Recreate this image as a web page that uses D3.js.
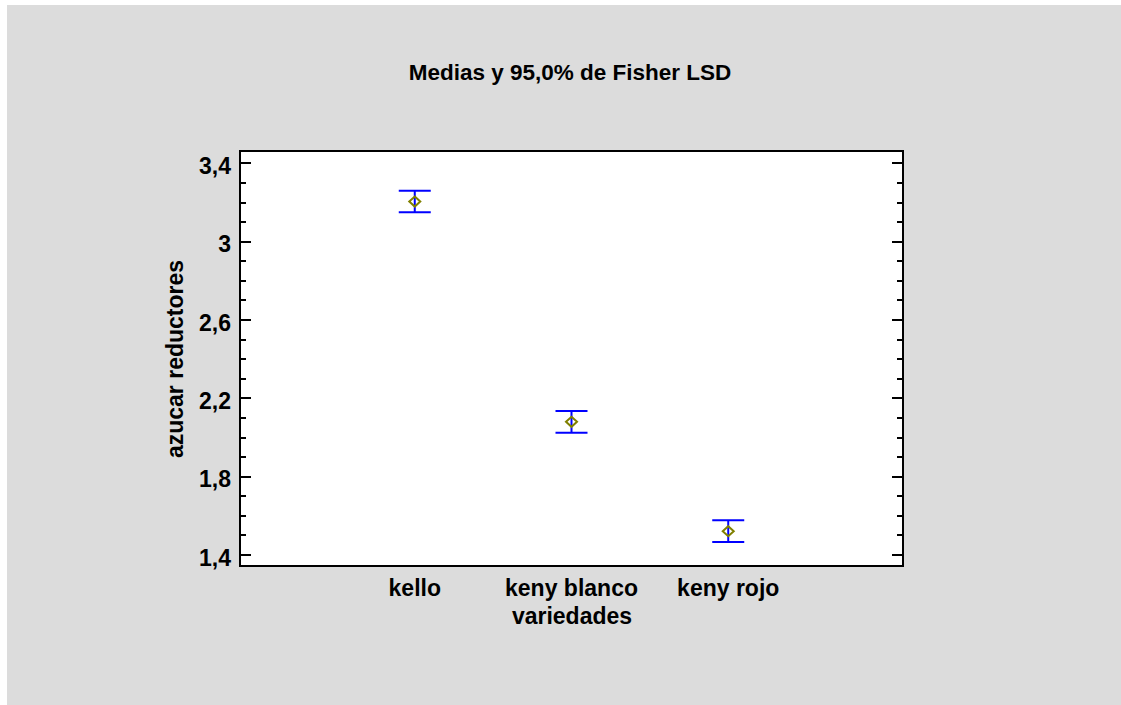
<!DOCTYPE html>
<html>
<head>
<meta charset="utf-8">
<script src="https://cdn.jsdelivr.net/npm/d3@7"></script>
<style>
  html, body { margin: 0; padding: 0; background: #ffffff; }
  svg { display: block; }
  text { font-family: "Liberation Sans", Arial, sans-serif; font-weight: bold; fill: #000; }
</style>
</head>
<body>
<script>
// Means and 95% Fisher LSD intervals per variety
const categories = ["kello", "keny blanco", "keny rojo"];
const means = [3.205, 2.080, 1.522];
const lower = [3.150, 2.025, 1.467];
const upper = [3.260, 2.135, 1.577];
const yTicks = [1.4, 1.8, 2.2, 2.6, 3.0, 3.4];
const yMinorTicks = d3.range(1.4, 3.45, 0.1).map(v => +v.toFixed(1));
const titleText = "Medias y 95,0% de Fisher LSD";
const xTitle = "variedades";
const yTitle = "azucar reductores";

const W = 1121, H = 705;
const plot = { left: 240, top: 151, right: 903, bottom: 566 };

const svg = d3.select("body").append("svg")
  .attr("width", W).attr("height", H);

// panel background
svg.append("rect")
  .attr("x", 7).attr("y", 5).attr("width", W - 7).attr("height", H - 5)
  .attr("fill", "#dcdcdc");

// plotting area
svg.append("rect")
  .attr("x", plot.left).attr("y", plot.top)
  .attr("width", plot.right - plot.left).attr("height", plot.bottom - plot.top)
  .attr("fill", "#ffffff");

const x = d3.scalePoint().domain(categories)
  .range([plot.left, plot.right]).padding(1.115);
const y = d3.scaleLinear().domain([1.344, 3.463])
  .range([plot.bottom, plot.top]);

const fmt = v => (Number.isInteger(v) ? String(v) : v.toFixed(1)).replace(".", ",");

// inward ticks on left and right sides
const tickG = svg.append("g").attr("stroke", "#000").attr("stroke-width", 2);
yMinorTicks.forEach(v => {
  const major = yTicks.some(t => Math.abs(t - v) < 1e-9);
  const len = major ? 11 : 6;
  const yy = Math.round(y(v)) + 0.0;
  tickG.append("line").attr("x1", plot.left).attr("x2", plot.left + len)
    .attr("y1", yy).attr("y2", yy);
  tickG.append("line").attr("x1", plot.right).attr("x2", plot.right - len)
    .attr("y1", yy).attr("y2", yy);
});

// y tick labels
svg.append("g").selectAll("text").data(yTicks).join("text")
  .attr("x", plot.left - 9)
  .attr("y", d => y(d) + 10.5)
  .attr("text-anchor", "end")
  .style("font-size", "23px")
  .text(fmt);

// x category labels
svg.append("g").selectAll("text").data(categories).join("text")
  .attr("x", d => x(d))
  .attr("y", 596)
  .attr("text-anchor", "middle")
  .style("font-size", "23px")
  .text(d => d);

// frame
svg.append("rect")
  .attr("x", plot.left).attr("y", plot.top)
  .attr("width", plot.right - plot.left).attr("height", plot.bottom - plot.top)
  .attr("fill", "none").attr("stroke", "#000").attr("stroke-width", 2);

// interval bars
const capHalf = 16;
const bars = svg.append("g").attr("stroke", "#0000ff").attr("stroke-width", 2);
categories.forEach((c, i) => {
  const cx = x(c);
  bars.append("line").attr("x1", cx).attr("x2", cx)
    .attr("y1", y(upper[i])).attr("y2", y(lower[i]));
  bars.append("line").attr("x1", cx - capHalf).attr("x2", cx + capHalf)
    .attr("y1", y(upper[i])).attr("y2", y(upper[i]));
  bars.append("line").attr("x1", cx - capHalf).attr("x2", cx + capHalf)
    .attr("y1", y(lower[i])).attr("y2", y(lower[i]));
});

// mean markers (diamonds)
svg.append("g").selectAll("path").data(categories).join("path")
  .attr("d", (c, i) => {
    const cx = x(c), cy = y(means[i]);
    return `M${cx},${cy - 5}L${cx + 5.5},${cy}L${cx},${cy + 5}L${cx - 5.5},${cy}Z`;
  })
  .attr("fill", "none").attr("stroke", "#808000").attr("stroke-width", 2);

// titles
svg.append("text")
  .attr("x", 570).attr("y", 79.5)
  .attr("text-anchor", "middle")
  .style("font-size", "22.5px")
  .text(titleText);

svg.append("text")
  .attr("x", (plot.left + plot.right) / 2 + 0.5).attr("y", 624)
  .attr("text-anchor", "middle")
  .style("font-size", "23px")
  .text(xTitle);

svg.append("text")
  .attr("transform", `translate(183,359) rotate(-90)`)
  .attr("text-anchor", "middle")
  .style("font-size", "23px")
  .text(yTitle);
</script>
</body>
</html>
